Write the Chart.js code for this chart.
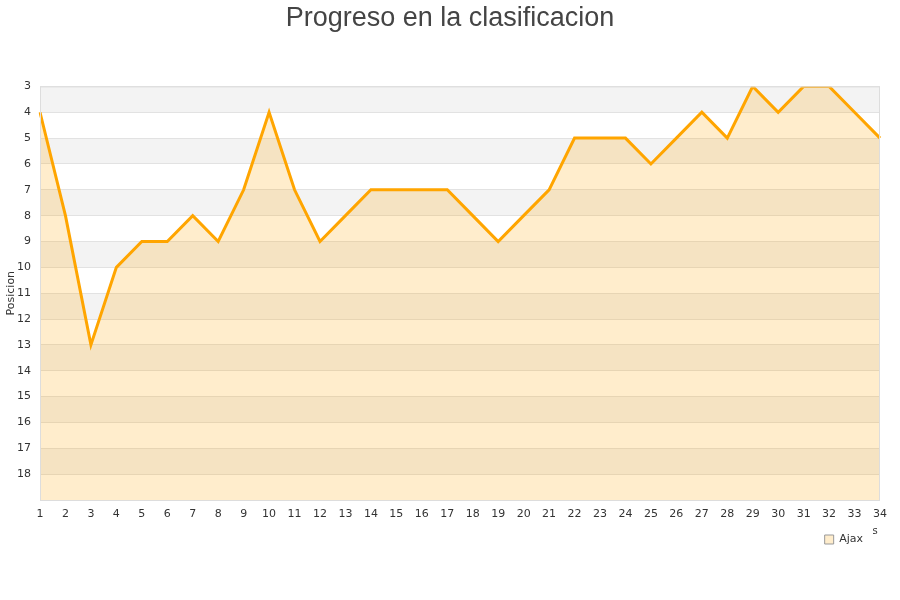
<!DOCTYPE html>
<html>
<head>
<meta charset="utf-8">
<script src="https://cdn.jsdelivr.net/npm/chart.js@4/dist/chart.umd.min.js"></script>
<style>
html,body{margin:0;padding:0;background:#fff;}
#wrap{width:900px;height:600px;position:relative;}
</style>
</head>
<body>
<div id="wrap"><canvas id="c" width="900" height="600"></canvas></div>
<script>
const jornadas = ["1","2","3","4","5","6","7","8","9","10","11","12","13","14","15","16","17","18","19","20","21","22","23","24","25","26","27","28","29","30","31","32","33","34"];
const ajax = [4,8,13,10,9,9,8,9,7,4,7,9,8,7,7,7,7,8,9,8,7,5,5,5,6,5,4,5,3,4,3,3,4,5];
const yMin = 3, yMax = 19;

const bands = {
  id: 'bands',
  beforeDraw(chart) {
    const {ctx, chartArea: a, scales: {y}} = chart;
    ctx.save();
    for (let v = yMin; v < yMax; v++) {
      const t = y.getPixelForValue(v), b = y.getPixelForValue(v + 1);
      ctx.fillStyle = ((v - yMin) % 2 === 0) ? '#f3f3f3' : '#ffffff';
      ctx.fillRect(a.left, Math.min(t, b), a.right - a.left, Math.abs(b - t));
    }
    ctx.restore();
  },
  afterDraw(chart) {
    const {ctx, chartArea: a} = chart;
    ctx.save();
    ctx.strokeStyle = '#dddddd';
    ctx.lineWidth = 1;
    ctx.strokeRect(a.left + 0.5, a.top + 0.5, a.right - a.left - 1, a.bottom - a.top);
    ctx.fillStyle = '#333';
    ctx.font = '10px "DejaVu Sans"';
    ctx.textAlign = 'center';
    ctx.textBaseline = 'middle';
    ctx.fillText('s', 875, 531);
    ctx.restore();
  }
};

new Chart(document.getElementById('c'), {
  type: 'line',
  data: {
    labels: jornadas,
    datasets: [{
      label: 'Ajax',
      data: ajax,
      borderColor: '#ffa500',
      backgroundColor: 'rgba(255,165,0,0.2)',
      borderWidth: 3,
      pointRadius: 0,
      pointHoverRadius: 0,
      tension: 0,
      fill: {value: yMax}
    }]
  },
  plugins: [bands],
  options: {
    responsive: false,
    animation: false,
    layout: {padding: {left: 0, right: 0, top: 0, bottom: 45}},
    plugins: {
      title: {
        display: true,
        text: 'Progreso en la clasificacion',
        color: '#444',
        font: {family: '"Liberation Sans", Arial, sans-serif', size: 27, weight: 'normal'},
        padding: {top: 2, bottom: 52}
      },
      legend: {
        display: true,
        position: 'bottom',
        align: 'end',
        fullSize: false,
        labels: {
          color: '#333',
          font: {family: '"DejaVu Sans", sans-serif', size: 11},
          boxWidth: 9,
          boxHeight: 9,
          padding: 17,
          generateLabels(chart) {
            return [{text: 'Ajax', fillStyle: '#ffedcc', strokeStyle: '#999', lineWidth: 1, datasetIndex: 0, fontColor: '#333'}];
          }
        }
      },
      tooltip: {enabled: false}
    },
    scales: {
      x: {
        type: 'category',
        offset: false,
        grid: {display: false, drawTicks: false},
        border: {display: false},
        ticks: {
          color: '#333',
          font: {family: '"DejaVu Sans", sans-serif', size: 11},
          autoSkip: false,
          maxRotation: 0,
          padding: 8
        },
        afterFit(s) { s.height = 17; }
      },
      y: {
        type: 'linear',
        reverse: true,
        min: yMin,
        max: yMax,
        grid: {color: '#e2e2e2', drawTicks: false},
        border: {display: false},
        ticks: {
          stepSize: 1,
          color: '#333',
          font: {family: '"DejaVu Sans", sans-serif', size: 11},
          padding: 9,
          callback: (v) => (v === yMax ? '' : v)
        },
        title: {
          display: true,
          text: 'Posicion',
          color: '#333',
          font: {family: '"DejaVu Sans", sans-serif', size: 11},
          padding: {top: 5, bottom: 0}
        },
        afterFit(s) { s.width = 40; }
      },
      yR: {
        type: 'linear',
        position: 'right',
        display: true,
        grid: {display: false, drawTicks: false},
        border: {display: false},
        ticks: {display: false},
        afterFit(s) { s.width = 20; }
      }
    }
  }
});
</script>
</body>
</html>
